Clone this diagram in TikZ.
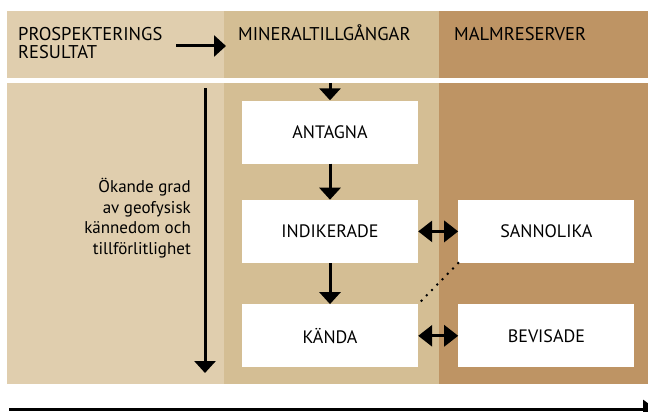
\documentclass[tikz,border=0pt]{standalone}
\usepackage{fontspec}
\setmainfont{PT Sans}
\usetikzlibrary{arrows.meta,positioning,calc}
\definecolor{prospfill}{RGB}{224,206,174}
\definecolor{mineralfill}{RGB}{212,190,148}
\definecolor{malmfill}{RGB}{190,148,100}
\begin{document}
\begin{tikzpicture}[x=1pt, y=-1pt, font=\fontsize{17}{20.5}\selectfont,
  box/.style={fill=white, minimum width=176pt, minimum height=63pt, inner sep=0pt, font=\fontsize{18}{20}\selectfont},
  hdr/.style={inner sep=0pt, align=left, font=\fontsize{18.5}{18}\selectfont},
  ar/.style={-{Triangle[length=12pt,width=21pt]}, line width=3pt},
  dar/.style={{Triangle[length=14pt,width=21pt]}-{Triangle[length=14pt,width=21pt]}, line width=3pt}]
\useasboundingbox (0,0) rectangle (648,412);
% column bands
\fill[prospfill] (7,11) rectangle (224,78);
\fill[mineralfill] (224,11) rectangle (439,78);
\fill[malmfill] (439,11) rectangle (648,78);
\fill[prospfill] (7,83) rectangle (224,384);
\fill[mineralfill] (224,83) rectangle (439,384);
\fill[malmfill] (439,83) rectangle (648,384);
% headers
\node[hdr, anchor=base west] (prosp) at (18,59) {PROSPEKTERINGS\\RESULTAT};
\node[hdr, anchor=base west] (mineral) at (238,41) {MINERALTILLGÅNGAR};
\node[hdr, anchor=base west] (malm) at (454,41) {MALMRESERVER};
% classes
\node[box] (antagna) at (330,132) {ANTAGNA};
\node[box, below=36pt of antagna] (indikerade) {INDIKERADE};
\node[box, below=41pt of indikerade] (kanda) {KÄNDA};
\node[box, right=40pt of indikerade] (sannolika) {SANNOLIKA};
\node[box, right=40pt of kanda] (bevisade) {BEVISADE};
\node[align=right, anchor=east, inner sep=0pt] (grad) at (191,218)
  {Ökande grad\\av geofysisk\\kännedom och\\tillförlitlighet};
\coordinate (bandtop) at (330,83);
\coordinate (gtop) at (205,88);
\coordinate (gbot) at (205,373);
\coordinate (xstart) at (9,409);
\coordinate (xend) at (656,409);
% connectors
\draw[ar] (176,46) coordinate (hstart) -- (226,46);
\draw[ar] (bandtop) -- (antagna.north);
\draw[ar] (antagna) -- (indikerade);
\draw[ar] (indikerade) -- (kanda);
\draw[dar] (indikerade) -- (sannolika);
\draw[dar] (kanda) -- (bevisade);
\draw[line width=2.8pt, line cap=round, dash pattern=on 0pt off 7.5pt] (sannolika.south west) -- (kanda.north east);
\draw[ar] (gtop) -- (gbot);
\draw[-{Triangle[length=13pt,width=18pt]}, line width=3pt] (xstart) -- (xend);
\end{tikzpicture}
\end{document}
